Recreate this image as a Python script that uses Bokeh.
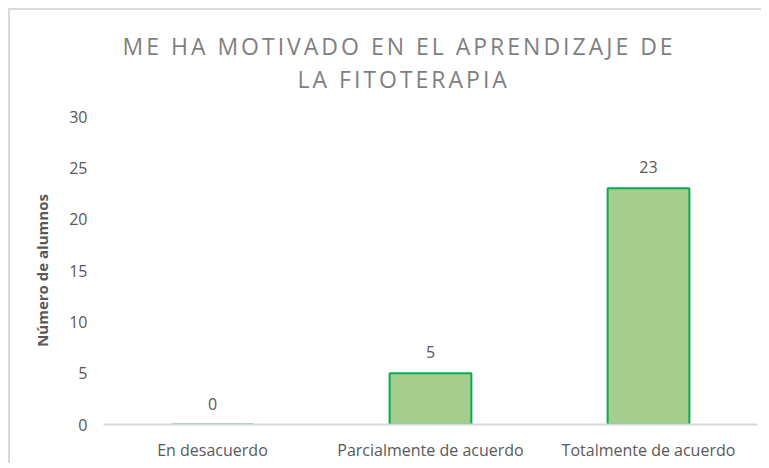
from bokeh.plotting import figure
from bokeh.models import ColumnDataSource, FixedTicker, Range1d
from bokeh.layouts import column
from bokeh.core.properties import value
from bokeh.embed import file_html
from bokeh.resources import INLINE

categories = ["En desacuerdo", "Parcialmente de acuerdo", "Totalmente de acuerdo"]
counts = [0, 5, 23]
labels = [str(c) for c in counts]
y_ticks = [0, 5, 10, 15, 20, 25, 30]
title_lines = ["ME HA MOTIVADO EN EL APRENDIZAJE DE", "LA FITOTERAPIA"]

FONT = "Open Sans"
GRAY = "#595959"
W = 751
BL, BR = 93, 4

# ---- title strip (letter-spaced) ----
tf = figure(width=W, height=96, x_range=Range1d(BL, W - BR), y_range=Range1d(96, 0),
            output_backend="svg", toolbar_location=None,
            x_axis_location=None, y_axis_location=None,
            min_border_left=BL, min_border_right=BR, min_border_top=0,
            min_border_bottom=0, styles={"letter-spacing": "3px"})
tf.outline_line_color = None
tf.grid.visible = False
tsrc = ColumnDataSource(dict(x=[112, 287], y=[35, 68], t=title_lines))
tf.text(x="x", y="y", text="t", source=tsrc, text_align="left",
        text_baseline="middle", text_font=value(FONT), text_font_size="23px",
        text_color="#7F7F7F")

# ---- main chart ----
src = ColumnDataSource(dict(cat=categories, n=counts, lab=labels))
p = figure(x_range=categories, y_range=(0, 30), width=W, height=357,
           output_backend="svg", toolbar_location=None,
           min_border_left=BL, min_border_right=BR, min_border_bottom=20,
           min_border_top=10)
p.background_fill_color = "white"
p.border_fill_color = "white"
p.outline_line_color = None

p.vbar(x="cat", top="n", width=0.375, source=src, fill_color="#A6CD8D",
       line_color="#00B050", line_width=2)
p.text(x="cat", y="n", text="lab", source=src, text_align="center",
       text_baseline="alphabetic", y_offset=-21, text_font=value(FONT),
       text_font_size="16px", text_color=GRAY)

p.xgrid.visible = False
p.ygrid.visible = False

p.yaxis.ticker = FixedTicker(ticks=y_ticks)
p.yaxis.axis_line_color = None
p.yaxis.major_tick_line_color = None
p.yaxis.minor_tick_line_color = None
p.yaxis.major_label_text_font = FONT
p.yaxis.major_label_text_font_size = "16px"
p.yaxis.major_label_text_color = GRAY
p.yaxis.major_label_standoff = 10
p.yaxis.axis_label = "Número de alumnos"
p.yaxis.axis_label_text_font = FONT
p.yaxis.axis_label_text_font_size = "15px"
p.yaxis.axis_label_text_font_style = "bold"
p.yaxis.axis_label_text_color = GRAY
p.yaxis.axis_label_standoff = 14

p.xaxis.axis_line_color = "#D9D9D9"
p.xaxis.axis_line_width = 2
p.xaxis.major_tick_line_color = None
p.xaxis.minor_tick_line_color = None
p.xaxis.major_label_text_font = FONT
p.xaxis.major_label_text_font_size = "16px"
p.xaxis.major_label_text_color = GRAY
p.xaxis.major_label_standoff = 8

p.x_range.range_padding = 0.0

layout = column(tf, p, spacing=0, margin=(8, 0, 0, 8),
                styles={"border-top": "2px solid #D9D9D9",
                        "border-left": "2px solid #D9D9D9"})

open("out.html", "w").write(file_html(layout, INLINE))
